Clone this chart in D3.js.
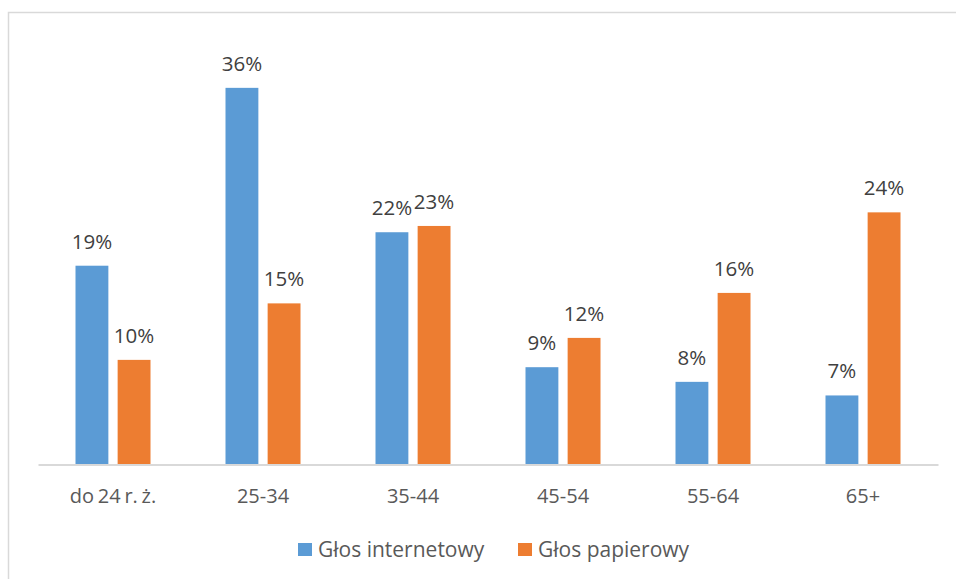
<!DOCTYPE html>
<html><head><meta charset="utf-8">
<script src="https://cdn.jsdelivr.net/npm/d3@7"></script>
<style>body{margin:0;background:#fff}svg{display:block}text{font-family:"Open Sans",sans-serif}</style>
</head><body>
<svg id="c" width="956" height="579"></svg>
<script>
const categories = ["do 24 r. ż.", "25-34", "35-44", "45-54", "55-64", "65+"];
const seriesNames = ["Głos internetowy", "Głos papierowy"];
const internetValues = [19.0, 36.0, 22.2, 9.3, 7.9, 6.6];
const paperValues = [10.0, 15.4, 22.8, 12.1, 16.4, 24.1];
const colors = ["#5B9BD5", "#ED7D31"];
const FONT = "'Open Sans',sans-serif";

const svg = d3.select("#c");
svg.append("rect").attr("x", 8.5).attr("y", 12.5).attr("width", 960).attr("height", 600)
  .attr("fill", "#fff").attr("stroke", "#d9d9d9").attr("stroke-width", 1.5);

const x0 = d3.scaleBand().domain(categories).range([38, 938]).paddingInner(0).paddingOuter(0);
const x1 = d3.scaleBand().domain(seriesNames).range([37.5, 112.5]).paddingInner(0.22);
const y = d3.scaleLinear().domain([0, 40]).range([464.5, 46]);

const data = categories.map((c, i) => ({c, vals: [internetValues[i], paperValues[i]]}));

const g = svg.append("g");
const groups = g.selectAll("g.cat").data(data).join("g").attr("class", "cat")
  .attr("transform", d => `translate(${x0(d.c)},0)`);
groups.selectAll("rect").data(d => d.vals.map((v, k) => ({v, k})))
  .join("rect")
  .attr("x", d => x1(seriesNames[d.k]))
  .attr("width", x1.bandwidth())
  .attr("y", d => y(d.v))
  .attr("height", d => y(0) - y(d.v))
  .attr("fill", d => colors[d.k]);
groups.selectAll("text").data(d => d.vals.map((v, k) => ({v, k})))
  .join("text")
  .attr("x", d => x1(seriesNames[d.k]) + x1.bandwidth() / 2)
  .attr("y", d => y(d.v) - 17)
  .attr("text-anchor", "middle")
  .attr("font-size", 20.5)
  .attr("fill", "#404040")
  .text(d => Math.round(d.v) + "%");

// baseline axis
const xAxis = d3.axisBottom(x0).tickSize(0).tickPadding(0);
const ax = svg.append("g").attr("transform", `translate(0,${y(0)})`).call(xAxis);
ax.select(".domain").attr("stroke", "#d9d9d9").attr("stroke-width", 2);
ax.selectAll(".tick text").attr("dy", null).attr("y", 38.5).attr("font-size", 20)
  .attr("word-spacing", -1.5).attr("fill", "#595959").attr("font-family", FONT);

// legend
const legendX = [298, 518];
const lg = svg.append("g");
seriesNames.forEach((n, k) => {
  lg.append("rect").attr("x", legendX[k]).attr("y", 543).attr("width", 14).attr("height", 13).attr("fill", colors[k]);
  lg.append("text").attr("x", legendX[k] + 20).attr("y", 557).attr("font-size", 21).attr("fill", "#595959").text(n);
});
</script>
</body></html>
